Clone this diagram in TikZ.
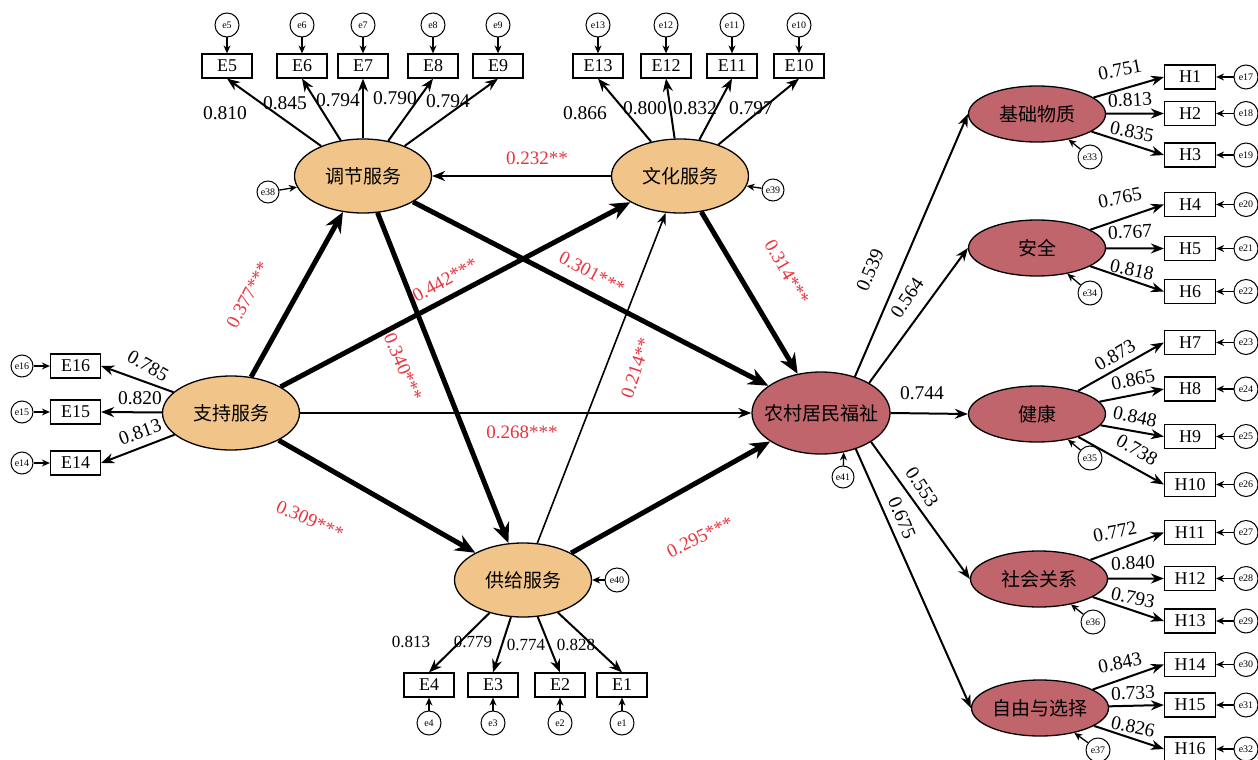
\documentclass[tikz,border=0pt]{standalone}
\usepackage{fontspec}
\setmainfont{Liberation Serif}
\newfontfamily\cjk{Noto Sans CJK SC}
\usetikzlibrary{shapes.geometric,arrows.meta}
\definecolor{orF}{RGB}{241,196,138}
\definecolor{rdF}{RGB}{192,101,107}
\definecolor{sigC}{RGB}{232,52,62}
\begin{document}
\begin{tikzpicture}[x=1pt,y=-1pt,
  lat/.style={ellipse, draw, line width=1.3pt, inner sep=0pt, font=\cjk\fontsize{19}{20}\selectfont},
  latO/.style={lat, fill=orF, minimum width=137pt, minimum height=74pt},
  latR/.style={lat, fill=rdF, minimum width=137pt, minimum height=56pt},
  obs/.style={rectangle, draw, line width=1.2pt, minimum width=50pt, minimum height=24pt, inner sep=0pt, font=\fontsize{18}{18}\selectfont},
  err/.style={circle, draw, line width=1pt, minimum size=24pt, inner sep=0pt, font=\fontsize{10}{10}\selectfont},
  errs/.style={err, minimum size=22pt},
  ld/.style={line width=2pt, -{Stealth[length=13pt,width=10pt]}},
  thk/.style={line width=5pt, -{Stealth[length=20pt,width=17pt]}},
  thn/.style={line width=2pt, -{Stealth[length=13pt,width=10pt]}},
  ea/.style={line width=1.3pt, -{Stealth[length=8pt,width=7pt]}},
  num/.style={font=\fontsize{19.5}{19.5}\selectfont, inner sep=0pt},
  nums/.style={font=\fontsize{17}{17}\selectfont, inner sep=0pt},
  sig/.style={font=\fontsize{19}{19}\selectfont, inner sep=0pt, text=sigC}]
\useasboundingbox (0,0) rectangle (1258,760);

% latent variables
\node[latO] (tj) at (363,176) {\makebox[0pt]{调节服务}};
\node[latO] (wh) at (680,176) {\makebox[0pt]{文化服务}};
\node[latO] (zc) at (231,413) {\makebox[0pt]{支持服务}};
\node[latO] (gj) at (523,580) {\makebox[0pt]{供给服务}};
\node[lat, fill=rdF, minimum width=138pt, minimum height=82pt] (nc) at (821,413) {\makebox[0pt]{农村居民福祉}};
\node[latR] (jc) at (1037,114) {\makebox[0pt]{基础物质}};
\node[latR] (aq) at (1037,248) {\makebox[0pt]{安全}};
\node[latR] (jk) at (1037,414) {\makebox[0pt]{健康}};
\node[latR] (sh) at (1039,579) {\makebox[0pt]{社会关系}};
\node[latR] (zy) at (1040,708) {\makebox[0pt]{自由与选择}};

% top-left indicators
\foreach \n/\x/\v/\lx/\ly in {5/227/0.810/225/113, 6/302/0.845/285/103, 7/363/0.794/338/100, 8/433/0.790/395/98, 9/498/0.794/448/101} {
  \node[obs] (E\n) at (\x,66) {E\n};
  \node[err] (e\n) at (\x,25) {e\n};
  \draw[ea] (e\n) -- (E\n);
  \draw[ld] (tj) -- (E\n.south);
  \node[num] (l\n) at (\lx,\ly) {\v};
}
% top-right indicators
\foreach \n/\x/\v/\lx/\ly in {13/598/0.866/585/113, 12/666/0.800/645/108, 11/732/0.832/695/108, 10/799/0.797/751/108} {
  \node[obs] (E\n) at (\x,66) {E\n};
  \node[err] (e\n) at (\x,25) {e\n};
  \draw[ea] (e\n) -- (E\n);
  \draw[ld] (wh) -- (E\n.south);
  \node[num] (l\n) at (\lx,\ly) {\v};
}
% left indicators
\foreach \n/\y in {16/366, 15/412, 14/463} {
  \node[obs] (E\n) at (75.5,\y) {E\n};
  \node[errs] (e\n) at (22,\y) {e\n};
  \draw[ea] (e\n) -- (E\n.west);
  \draw[ld] (zc) -- (E\n.east);
}
\node[num, rotate=-30] (l16) at (148,366) {0.785};
\node[num] (l15) at (140,398) {0.820};
\node[num, rotate=20] (l14) at (140,432) {0.813};

% bottom indicators
\foreach \n/\x/\v/\lx/\ly in {4/429/0.813/411/642, 3/493/0.779/473/642, 2/560/0.774/526/645, 1/622/0.828/576/645} {
  \node[obs] (E\n) at (\x,685) {E\n};
  \node[err] (e\n) at (\x,723) {e\n};
  \draw[ea] (e\n) -- (E\n);
  \draw[ld] (gj) -- (E\n.north);
  \node[nums] (l\n) at (\lx,\ly) {\v};
}

% residuals of first-order latents
\node[errs] (e38) at (268,192) {e38};
\draw[ea] (e38) -- (tj);
\node[errs] (e39) at (773,190) {e39};
\draw[ea] (e39) -- (wh);
\node[err] (e40) at (617,580) {e40};
\draw[ea] (e40) -- (gj);
\node[errs] (e41) at (843,477) {e41};
\draw[ea] (e41) -- (nc.-60);

% structural paths
\draw[thn] (wh) -- (tj);
\draw[thk] (zc) -- (tj);
\draw[thk] (zc) -- (wh);
\draw[thk] (tj) -- (nc);
\draw[thk] (tj) -- (gj);
\draw[line width=1.6pt, -{Stealth[length=12pt,width=9pt]}] (gj) -- (wh);
\draw[thk] (wh) -- (nc);
\draw[thn] (zc) -- (nc);
\draw[thk] (zc) -- (gj);
\draw[thk] (gj) -- (nc);

\node[sig] (s1) at (537,158) {0.232**};
\node[sig, rotate=62] (s2) at (248,295) {0.377***};
\node[sig, rotate=29] (s3) at (445,280) {0.442***};
\node[sig, rotate=-28] (s4) at (592,273) {0.301***};
\node[sig, rotate=-67] (s5) at (403,367) {0.340***};
\node[sig, rotate=72] (s6) at (636,368) {0.214**};
\node[sig] (s7) at (522,432) {0.268***};
\node[sig, rotate=-60] (s8) at (787,272) {0.314***};
\node[sig, rotate=-24] (s9) at (310,520) {0.309***};
\node[sig, rotate=26] (s10) at (700,537) {0.295***};

% second-order paths
\draw[thn] (nc.47) -- (jc.west);
\draw[thn] (nc.32) -- (aq.west);
\draw[thn] (nc.east) -- (jk.west);
\draw[thn] (nc.-30) -- (sh.west);
\draw[thn] (nc.-46) -- (zy.west);
\node[num, rotate=67] (m1) at (870,270) {0.539};
\node[num, rotate=56] (m2) at (907,298) {0.564};
\node[num] (m3) at (922,393) {0.744};
\node[num, rotate=-57] (m4) at (922,487) {0.553};
\node[num, rotate=-67] (m5) at (902,518) {0.675};

% H indicators
\foreach \n/\y/\p in {1/77/jc, 2/113.5/jc, 3/155/jc, 4/204.5/aq, 5/248.5/aq, 6/291.5/aq, 7/342.5/jk, 8/389/jk, 9/436.5/jk, 10/484.5/jk, 11/532.5/sh, 12/578.5/sh, 13/621/sh, 14/664.5/zy, 15/705/zy, 16/749/zy} {
  \node[obs, minimum width=51pt] (H\n) at (1190,\y) {H\n};
  \pgfmathtruncatemacro{\en}{\n+16}
  \node[err] (e\en) at (1246,\y) {e\en};
  \draw[ea] (e\en) -- (H\n.east);
  \draw[ld] (\p) -- (H\n.west);
}
\node[num, rotate=11] (h1) at (1120,70) {0.751};
\node[num, rotate=3] (h2) at (1130,100) {0.813};
\node[num, rotate=-12] (h3) at (1132,132) {0.835};
\node[num, rotate=11] (h4) at (1120,198) {0.765};
\node[num, rotate=3] (h5) at (1130,232) {0.767};
\node[num, rotate=-12] (h6) at (1132,270) {0.818};
\node[num, rotate=31] (h7) at (1115,355) {0.873};
\node[num, rotate=12] (h8) at (1133,380) {0.865};
\node[num, rotate=-12] (h9) at (1135,417) {0.848};
\node[num, rotate=-30] (h10) at (1137,450) {0.738};
\node[num, rotate=11] (h11) at (1115,532) {0.772};
\node[num, rotate=2] (h12) at (1133,563) {0.840};
\node[num, rotate=-12] (h13) at (1133,598) {0.793};
\node[num, rotate=11] (h14) at (1120,663) {0.843};
\node[num, rotate=2] (h15) at (1133,693) {0.733};
\node[num, rotate=-12] (h16) at (1133,727) {0.826};

% residuals of second-order latents
\node[err] (e33) at (1090,157) {e33};
\draw[ea] (e33) -- (jc);
\node[err] (e34) at (1090,293) {e34};
\draw[ea] (e34) -- (aq);
\node[err] (e35) at (1090,458) {e35};
\draw[ea] (e35) -- (jk);
\node[err] (e36) at (1093,622) {e36};
\draw[ea] (e36) -- (sh);
\node[err] (e37) at (1098,750) {e37};
\draw[ea] (e37) -- (zy);
\end{tikzpicture}
\end{document}
